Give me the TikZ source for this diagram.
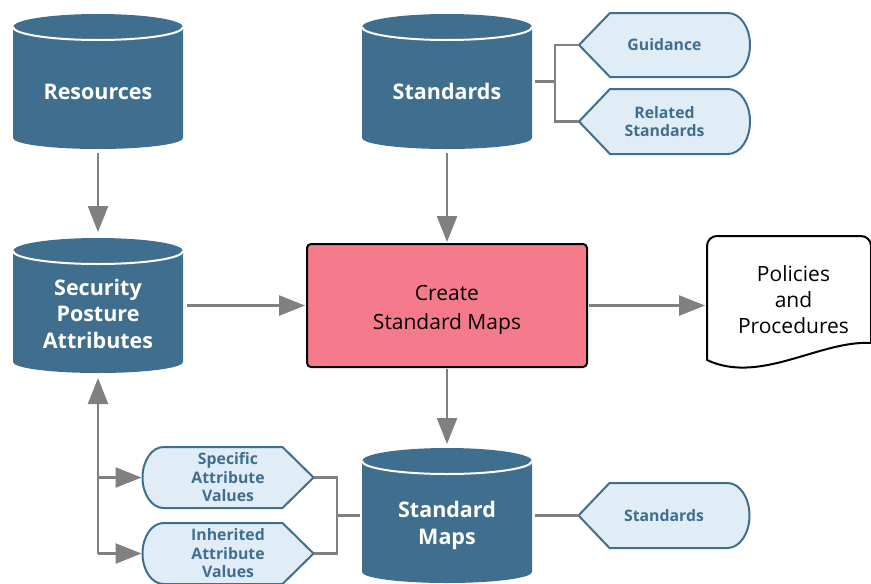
\documentclass[tikz,border=0pt]{standalone}
\usepackage{fontspec}
\setmainfont{Open Sans}
\usetikzlibrary{arrows.meta,calc}
\pgfdeclarelayer{background}
\pgfsetlayers{background,main}

\definecolor{dbblue}{RGB}{64,110,142}
\definecolor{notefill}{RGB}{224,237,246}
\definecolor{procpink}{RGB}{245,122,140}
\definecolor{linkgray}{RGB}{128,128,128}

\tikzset{
  dbcyl/.style={rectangle, minimum width=170pt, minimum height=135pt, inner sep=0pt, outer sep=0pt},
  dblabel/.style={text=white, font=\bfseries\fontsize{21.5}{26.5}\selectfont, align=center, inner sep=0pt},
  procbox/.style={rectangle, draw=black, line width=2pt, fill=procpink, rounded corners=4pt,
    minimum width=280pt, minimum height=123pt},
  proclabel/.style={align=center, inner sep=0pt, font=\fontsize{21}{27}\selectfont},
  notebox/.style={rectangle, minimum width=171pt, inner sep=0pt, outer sep=0pt, align=center,
    text=dbblue, font=\bfseries\fontsize{15.8}{18.5}\selectfont},
  noteline/.style={draw=dbblue, fill=notefill, line width=2pt, line join=round},
  docbox/.style={rectangle, minimum width=164pt, minimum height=126pt, inner sep=0pt, outer sep=0pt},
  doclabel/.style={align=center, inner sep=0pt, font=\fontsize{21}{26}\selectfont},
  link/.style={draw=linkgray, line width=2.5pt},
  flow/.style={link, -{Triangle[length=26pt,width=20pt]}},
}

% database cylinder filling the box of node #1
\newcommand\dbdraw[1]{%
  \begin{pgfonlayer}{background}
  \fill[dbblue] ($(#1.north west)+(0,-13)$) arc[start angle=180,end angle=0,x radius=85pt,y radius=13pt]
     -- ($(#1.south east)+(0,11)$) arc[start angle=0,end angle=-180,x radius=85pt,y radius=11pt] -- cycle;
  \draw[white,line width=2pt] ($(#1.north west)+(0,-13)$)
     arc[start angle=180,end angle=360,x radius=85pt,y radius=13pt];
  \end{pgfonlayer}}

% note pointing left, round right end; #2 = half height
\newcommand\noteleft[2]{%
  \begin{pgfonlayer}{background}
  \path[noteline] (#1.west) -- ($(#1.north west)+(31,0)$) -- ($(#1.north east)+(-22,0)$)
    arc[start angle=90,end angle=-90,x radius=22pt,y radius=#2pt] -- ($(#1.south west)+(31,0)$) -- cycle;
  \end{pgfonlayer}}

% note pointing right, round left end; #2 = half height
\newcommand\noteright[2]{%
  \begin{pgfonlayer}{background}
  \path[noteline] (#1.east) -- ($(#1.north east)+(-31,0)$) -- ($(#1.north west)+(21,0)$)
    arc[start angle=90,end angle=270,x radius=21pt,y radius=#2pt] -- ($(#1.south east)+(-31,0)$) -- cycle;
  \end{pgfonlayer}}

\begin{document}
\begin{tikzpicture}[x=1pt,y=1pt]
\useasboundingbox (0,0) rectangle (871,-584);

% databases
\node[dbcyl] (res) at (98,-81.5) {};
\node[dbcyl] (std) at (447,-81.5) {};
\node[dbcyl] (spa) at (98,-305.5) {};
\node[dbcyl] (smap) at (447,-515.5) {};
\dbdraw{res}\dbdraw{std}\dbdraw{spa}\dbdraw{smap}
\node[dblabel] (res-l) at ($(res.center)+(0,-10)$) {Resources};
\node[dblabel] (std-l) at ($(std.center)+(0,-10)$) {Standards};
\node[dblabel] (spa-l) at ($(spa.center)+(0,-8)$) {Security\\Posture\\Attributes};
\node[dblabel] (smap-l) at ($(smap.center)+(0,-10)$) {Standard\\Maps};

% process
\node[procbox] (create) at (447,-305.5) {};
\node[proclabel] (create-l) at ($(create.center)+(0,-4)$) {Create\\[2pt]Standard Maps};

% output document
\node[docbox] (pol) at (789,-299) {};
\begin{pgfonlayer}{background}
\path[draw=black, fill=white, line width=2pt, line join=round]
  ($(pol.south west)+(0,2)$) -- ($(pol.north west)+(0,-10)$)
  arc[start angle=180,end angle=90,radius=10pt] -- ($(pol.north east)+(-10,0)$)
  arc[start angle=90,end angle=0,radius=10pt] -- ($(pol.south east)+(0,19)$)
  .. controls (820,-340) and (760,-385) .. ($(pol.south west)+(0,2)$) -- cycle;
\end{pgfonlayer}
\node[doclabel] (pol-l) at (793.5,-300) {Policies\\and\\Procedures};

% notes
\node[notebox, minimum height=64pt] (guid) at (664.5,-45) {Guidance};
\node[notebox, minimum height=65pt] (rel) at (664.5,-121.5) {Related\\Standards};
\node[notebox, minimum height=65pt] (stdr) at (664,-515.5) {Standards};
\node[notebox, minimum height=61pt] (spec) at (228,-477.5) {Specific\\Attribute\\Values};
\node[notebox, minimum height=61pt] (inh) at (228,-553.5) {Inherited\\Attribute\\Values};
\noteleft{guid}{32}\noteleft{rel}{32.5}\noteleft{stdr}{32.5}
\noteright{spec}{30.5}\noteright{inh}{30.5}

% connectors
\draw[flow, shorten <=4pt, shorten >=6pt] (res.south) -- (spa.north);
\draw[flow, shorten <=4pt, shorten >=1pt] (std.south) -- (create.north);
\draw[flow, shorten <=4pt, shorten >=1pt] (spa.east) -- (create.west);
\draw[flow, shorten <=1pt, shorten >=4pt] (create.south) -- (smap.north);
\draw[flow, shorten <=1pt, shorten >=2pt] (create.east) -- (create.east -| pol.west);

\draw[link, shorten <=3pt] (std.east) -- ++(23,0) |- (guid.west);
\draw[link] (std.east) ++(23,0) |- (rel.west);
\draw[link, shorten <=3pt] (smap.east) -- (stdr.west);

\draw[link, shorten <=2pt] (smap.west) -- ++(-25,0) coordinate (mapjoin);
\draw[link] (spec.east) -| (mapjoin);
\draw[link] (inh.east) -| (mapjoin);

\draw[flow, shorten >=5pt] (spa.south |- inh.west) -- (spa.south);
\draw[flow, shorten >=1pt] (spa.south |- spec.west) -- (spec.west);
\draw[flow, shorten >=1pt] (spa.south |- inh.west) -- (inh.west);
\end{tikzpicture}
\end{document}
